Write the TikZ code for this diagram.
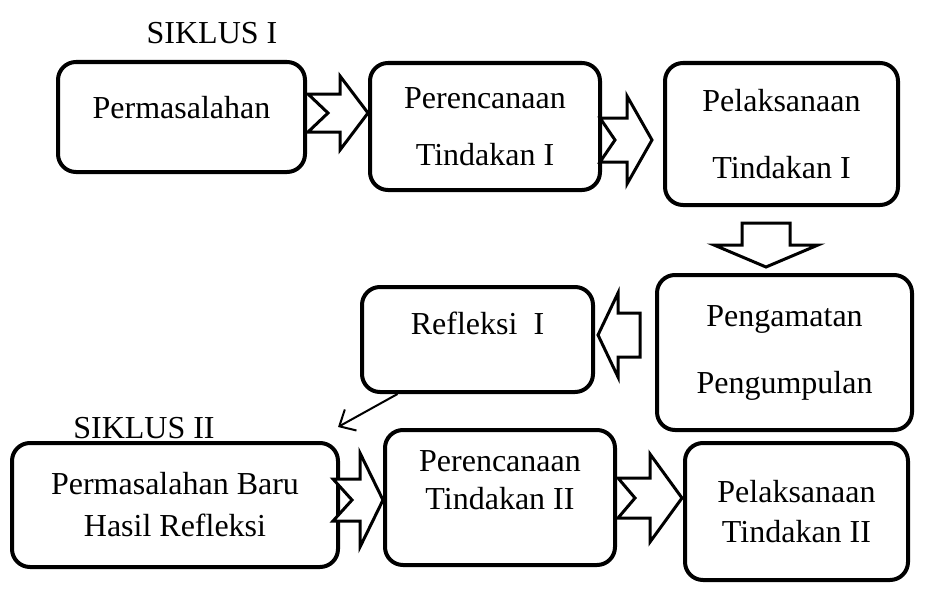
\documentclass[tikz,border=0pt]{standalone}
\usepackage{fontspec}
\setmainfont{Liberation Serif}
\usetikzlibrary{arrows.meta}

% notched block arrow: tail x, centre y, notch x, head base x, tip x, shaft half, head half
\newcommand{\notcharrow}[7]{%
  \draw[hollow] (#1,#2-#6) -- (#4,#2-#6) -- (#4,#2-#7) -- (#5,#2)
    -- (#4,#2+#7) -- (#4,#2+#6) -- (#1,#2+#6) -- (#3,#2) -- cycle;}

\begin{document}
\begin{tikzpicture}[
  x=1pt,y=-1pt,
  font=\fontsize{32}{38}\selectfont,
  stagebox/.style={draw,line width=4pt,rounded corners=18pt,align=center,inner sep=0pt},
  hollow/.style={draw,fill=white,line width=3pt,line join=miter},
  thin/.style={line width=2pt,-{Straight Barb[length=13pt,width=24pt,line width=2pt]}}
]
  \useasboundingbox (0,0) rectangle (928,594);

  \node (siklus1) at (212,33) {SIKLUS I};
  \node (siklus2) at (144,428) {SIKLUS II};

  \node[stagebox,minimum width=247pt,minimum height=110pt,text depth=20pt] (masalah) at (181.5,117)
    {Permasalahan};
  \node[stagebox,minimum width=230pt,minimum height=127pt] (rencana1) at (485,126.5)
    {Perencanaan\\[19pt]Tindakan I};
  \node[stagebox,minimum width=233pt,minimum height=142pt] (laksana1) at (781.5,134)
    {Pelaksanaan\\[29pt]Tindakan I};
  \node[stagebox,minimum width=255pt,minimum height=155pt] (amat) at (784.5,352.5)
    {Pengamatan\\[29pt]Pengumpulan};
  \node[stagebox,minimum width=231pt,minimum height=105pt,text depth=32pt] (refleksi) at (477.5,339.5)
    {Refleksi~~I};
  \node[stagebox,minimum width=326pt,minimum height=124pt] (masalahbaru) at (175,505)
    {Permasalahan Baru\\[4pt]Hasil Refleksi};
  \node[stagebox,minimum width=230pt,minimum height=135pt,text depth=34pt] (rencana2) at (500,497.5)
    {Perencanaan\\Tindakan II};
  \node[stagebox,minimum width=223pt,minimum height=137pt] (laksana2) at (796.5,511.5)
    {Pelaksanaan\\[2pt]Tindakan II};

  % block arrows between the stages
  \notcharrow{308}{113}{328}{340}{368}{19}{37}
  \notcharrow{600}{140}{615}{627}{652}{22}{44}
  \notcharrow{333}{500}{352}{360}{383}{21}{47}
  \notcharrow{618}{498}{635}{650}{682}{20}{44}
  \draw[hollow] (742,223) -- (790,223) -- (790,245) -- (818,245) -- (766,267)
    -- (714,245) -- (742,245) -- cycle;
  \draw[hollow] (640,313) -- (618,313) -- (618,293) -- (598,335) -- (618,377)
    -- (618,357) -- (640,357) -- cycle;

  \coordinate (next) at (338,427);
  \draw[thin] ([xshift=-80pt]refleksi.south) -- (next);
\end{tikzpicture}
\end{document}
